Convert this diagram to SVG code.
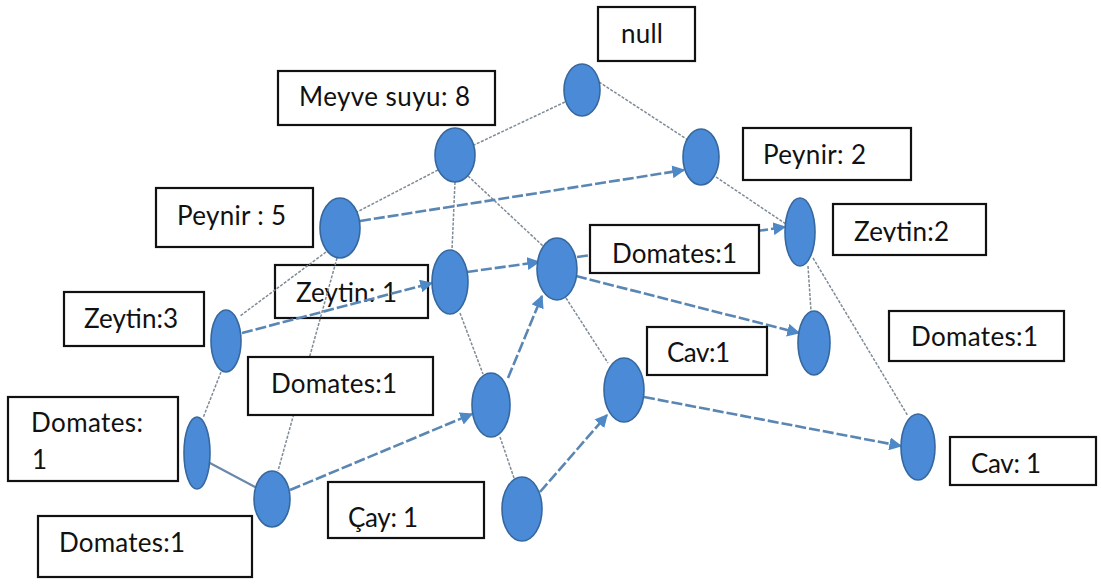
<svg xmlns="http://www.w3.org/2000/svg" width="1101" height="584" viewBox="0 0 1101 584">
  <style>
    .box { fill: #ffffff; stroke: #111111; stroke-width: 2.2; }
    .lbl { font-family: Lato, "Noto Sans", sans-serif; font-size: 26px; fill: #111111; }
    .node { fill: #4a8ad6; stroke: #36689f; stroke-width: 1.6; }
    .tree { stroke: #7f8b97; stroke-width: 1.5; stroke-dasharray: 3 1.5; fill: none; }
    .treeb { stroke: #6a89a8; stroke-width: 2.2; fill: none; }
    .link { stroke: #5a86b4; stroke-width: 2.6; stroke-dasharray: 11 3; fill: none; marker-end: url(#arr); }
  </style>
  <defs>
    <marker id="arr" viewBox="0 0 10 10" refX="9" refY="5" markerWidth="5" markerHeight="5" orient="auto" markerUnits="strokeWidth">
      <path d="M0,0 L10,5 L0,10 z" fill="#4f88c6"/>
    </marker>
    <clipPath id="clipZ2">
      <rect x="833" y="204" width="153" height="38"/>
    </clipPath>
  </defs>
  <rect width="1101" height="584" fill="#ffffff"/>

  <!-- label box that sits under the connectors -->
  <g id="label-zeytin1">
    <rect class="box" x="275" y="265" width="153" height="53"/>
    <text class="lbl" x="296" y="302" textLength="101">Zeytin: 1</text>
  </g>

  <g id="connectors">
    <!-- tree edges -->
    <line class="tree" x1="565" y1="102" x2="474" y2="145"/>
    <line class="tree" x1="599" y1="82" x2="688" y2="140"/>
    <line class="tree" x1="438" y1="170" x2="357" y2="212"/>
    <line class="tree" x1="455" y1="182" x2="452" y2="250"/>
    <line class="tree" x1="468" y1="176" x2="543" y2="246"/>
    <line class="tree" x1="716" y1="177" x2="786" y2="224"/>
    <line class="tree" x1="326" y1="252" x2="240" y2="316"/>
    <line class="tree" x1="337" y1="258" x2="278" y2="471"/>
    <line class="tree" x1="221" y1="372" x2="203" y2="418"/>
    <line class="treeb" x1="208" y1="462" x2="257" y2="488"/>
    <line class="tree" x1="460" y1="313" x2="483" y2="374"/>
    <line class="tree" x1="500" y1="437" x2="514" y2="478"/>
    <line class="tree" x1="566" y1="298" x2="608" y2="363"/>
    <line class="tree" x1="808" y1="266" x2="811" y2="311"/>
    <line class="tree" x1="813" y1="258" x2="908" y2="416"/>
    <!-- node links -->
    <line class="link" x1="360" y1="221" x2="684" y2="170"/>
    <line class="link" x1="242" y1="333" x2="432" y2="283"/>
    <line class="link" x1="467" y1="272" x2="539" y2="262"/>
    <line class="link" x1="577" y1="257" x2="785" y2="227"/>
    <line class="link" x1="508" y1="378" x2="542" y2="296"/>
    <line class="link" x1="576" y1="276" x2="799" y2="333"/>
    <line class="link" x1="290" y1="490" x2="472" y2="414"/>
    <line class="link" x1="540" y1="492" x2="607" y2="415"/>
    <line class="link" x1="644" y1="397" x2="901" y2="446"/>
  </g>

  <!-- tree nodes -->
  <g id="n-null"><ellipse class="node" cx="582" cy="90" rx="18" ry="26"/></g>
  <g id="n-meyve"><ellipse class="node" cx="455" cy="155" rx="20" ry="27"/></g>
  <g id="n-peynir2"><ellipse class="node" cx="701" cy="157" rx="18" ry="28"/></g>
  <g id="n-peynir5"><ellipse class="node" cx="340" cy="228" rx="20" ry="30"/></g>
  <g id="n-zeytin2"><ellipse class="node" cx="800" cy="232" rx="15" ry="34"/></g>
  <g id="n-zeytin1"><ellipse class="node" cx="450" cy="282" rx="18" ry="32"/></g>
  <g id="n-domates-mid"><ellipse class="node" cx="557" cy="269" rx="20" ry="31"/></g>
  <g id="n-zeytin3"><ellipse class="node" cx="226" cy="341" rx="15" ry="31"/></g>
  <g id="n-domates-right"><ellipse class="node" cx="814" cy="343" rx="16" ry="32"/></g>
  <g id="n-cav1"><ellipse class="node" cx="624" cy="390" rx="20" ry="32"/></g>
  <g id="n-domates-center"><ellipse class="node" cx="491" cy="405" rx="19" ry="32"/></g>
  <g id="n-domates-left"><ellipse class="node" cx="197" cy="453" rx="13" ry="36"/></g>
  <g id="n-cay"><ellipse class="node" cx="272" cy="499" rx="18" ry="28"/></g>
  <g id="n-bottom"><ellipse class="node" cx="522" cy="509" rx="20" ry="32"/></g>
  <g id="n-cav-right"><ellipse class="node" cx="918" cy="447" rx="17" ry="33"/></g>

  <!-- labels -->
  <g id="label-null">
    <rect class="box" x="598" y="7" width="97" height="54"/>
    <text class="lbl" x="621" y="43" textLength="42">null</text>
  </g>
  <g id="label-meyve">
    <rect class="box" x="278" y="71" width="217" height="54"/>
    <text class="lbl" x="299" y="106" textLength="171">Meyve suyu: 8</text>
  </g>
  <g id="label-peynir2">
    <rect class="box" x="743" y="128" width="168" height="52"/>
    <text class="lbl" x="763" y="164" textLength="103">Peynir: 2</text>
  </g>
  <g id="label-peynir5">
    <rect class="box" x="156" y="188" width="157" height="59"/>
    <text class="lbl" x="177" y="225" textLength="109">Peynir : 5</text>
  </g>
  <g id="label-zeytin2">
    <rect class="box" x="833" y="204" width="153" height="51"/>
    <text class="lbl" x="854" y="241" textLength="95" clip-path="url(#clipZ2)">Zeytin:2</text>
  </g>
  <g id="label-domates-mid">
    <rect class="box" x="590" y="225" width="169" height="48"/>
    <text class="lbl" x="612" y="263" textLength="125">Domates:1</text>
  </g>
  <g id="label-zeytin3">
    <rect class="box" x="64" y="292" width="140" height="54"/>
    <text class="lbl" x="84" y="328" textLength="94">Zeytin:3</text>
  </g>
  <g id="label-domates-right">
    <rect class="box" x="889" y="311" width="175" height="50"/>
    <text class="lbl" x="911" y="346" textLength="127">Domates:1</text>
  </g>
  <g id="label-cav1">
    <rect class="box" x="647" y="327" width="120" height="48"/>
    <text class="lbl" x="667" y="362" textLength="63">Cav:1</text>
  </g>
  <g id="label-domates-center">
    <rect class="box" x="248" y="357" width="185" height="58"/>
    <text class="lbl" x="271" y="393" textLength="126">Domates:1</text>
  </g>
  <g id="label-domates-left">
    <rect class="box" x="8" y="397" width="170" height="84"/>
    <text class="lbl" x="31" y="432" textLength="112">Domates:</text>
    <text class="lbl" x="32" y="469">1</text>
  </g>
  <g id="label-domates-bottom">
    <rect class="box" x="38" y="516" width="214" height="61"/>
    <text class="lbl" x="59" y="552" textLength="126">Domates:1</text>
  </g>
  <g id="label-cay">
    <rect class="box" x="328" y="482" width="156" height="56"/>
    <text class="lbl" x="348" y="527" textLength="70">Çay: 1</text>
  </g>
  <g id="label-cav-right">
    <rect class="box" x="950" y="437" width="146" height="48"/>
    <text class="lbl" x="971" y="473" textLength="70">Cav: 1</text>
  </g>
</svg>
